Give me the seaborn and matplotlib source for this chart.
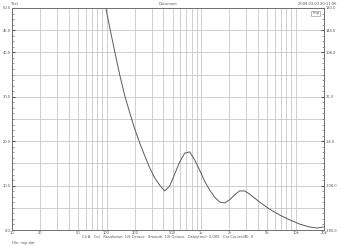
import numpy as np
import pandas as pd
import matplotlib
matplotlib.use("Agg")
import matplotlib.pyplot as plt
from matplotlib.ticker import FixedLocator, NullFormatter
import seaborn as sns

# ---- data ----
freq_hz = [89.2, 98.3, 108.4, 122.4, 138.2, 156.1, 176.2, 199.0, 224.7, 253.7, 286.6,
           323.6, 365.5, 412.7, 466.1, 526.3, 594.3, 671.1, 757.9, 855.9, 966.5, 1091,
           1233, 1392, 1572, 1775, 2005, 2264, 2557, 2887, 3260, 3681, 4158, 5302, 6761,
           8622, 10995, 14021, 17030, 19710]
impedance = [54.5, 50.0, 45.5, 40.1, 34.9, 30.2, 26.4, 22.7, 19.6, 16.7, 14.0,
             11.7, 10.1, 8.8, 9.9, 12.6, 15.3, 17.3, 17.6, 15.8, 13.5, 11.0,
             9.0, 7.4, 6.3, 6.1, 6.8, 7.9, 8.8, 8.8, 8.1, 7.2, 6.3, 4.7, 3.4,
             2.3, 1.35, 0.68, 0.45, 0.68]
x_ticks = [10, 20, 50, 100, 200, 500, 1000, 2000, 5000, 10000, 20000]
x_tick_labels = ["10", "20", "50", "100", "200", "500", "1k", "2k", "5k", "10k", "20k"]
y_left_ticks = [0, 10, 20, 30, 40, 45, 50]
y_left_labels = ["0.0", "10.0", "20.0", "30.0", "40.0", "45.0", "50.0"]
y_right_labels = ["-180.0", "-108.0", "-36.0", "36.0", "108.0", "144.0", "180.0"]

df = pd.DataFrame({"f": freq_hz, "z": impedance})

sns.set_style("white")
plt.rcParams['font.family'] = ['DejaVu Sans']

W, H = 341, 246
fig = plt.figure(figsize=(W / 100, H / 100), dpi=100)
ax = fig.add_axes([12 / W, 1 - 230 / H, (324 - 12) / W, (230 - 8) / H])

sns.lineplot(data=df, x="f", y="z", ax=ax, color="#5a5a5a", linewidth=0.7)
ax.set_xscale("log")
ax.set_xlim(10, 20000)
ax.set_ylim(0, 50)

# grid
major_f = []
for dec in [10, 100, 1000, 10000]:
    for m in range(1, 10):
        v = dec * m
        if v <= 20000:
            major_f.append(v)
major_f.append(20000)
for v in major_f:
    ax.axvline(v, color="#c8c8c8", linewidth=0.6, zorder=0)
for v in np.arange(0, 51, 5):
    ax.axhline(v, color="#c8c8c8", linewidth=0.6, zorder=0)

ax.xaxis.set_major_locator(FixedLocator(x_ticks))
ax.set_xticklabels(x_tick_labels)
ax.xaxis.set_minor_formatter(NullFormatter())
ax.tick_params(axis="x", which="both", length=0, labelsize=2.6, colors="#555555", pad=0.8)

ax.set_yticks(y_left_ticks)
ax.set_yticklabels(y_left_labels)
ax.set_yticks(np.arange(0, 50.1, 1.25), minor=True)
ax.tick_params(axis="y", which="major", length=2, direction="in", labelsize=2.6,
               colors="#555555", pad=1)
ax.tick_params(axis="y", which="minor", length=1.2, direction="in", color="#888888")

ax2 = ax.twinx()
ax2.set_ylim(0, 50)
ax2.set_yticks(y_left_ticks)
ax2.set_yticklabels(y_right_labels)
ax2.set_yticks(np.arange(0, 50.1, 1.25), minor=True)
ax2.tick_params(axis="y", which="major", length=2, direction="in", labelsize=2.6,
                colors="#555555", pad=1)
ax2.tick_params(axis="y", which="minor", length=1.2, direction="in", color="#888888")

for a in (ax, ax2):
    for s in a.spines.values():
        s.set_color("#707070")
        s.set_linewidth(0.6)

ax.set_xlabel("")
ax.set_ylabel("")

txt = dict(fontsize=2.6, color="#555555")
fig.text(14 / W, 1 - 4 / H, "Titel", ha="center", va="center", **txt)
fig.text(168 / W, 1 - 4 / H, "Document", ha="center", va="center", **txt)
fig.text(336 / W, 1 - 4 / H, "2008-03-03 20:11:06", ha="right", va="center", **txt)
fig.text(168 / W, 1 - 237 / H,
         "Ch A   Cnt   Resolution: 1/6 Octave   Smooth: 1/6 Octave   Delay(ms): 0.000   Cor Curve(dB): 0",
         ha="center", va="center", **txt)
fig.text(12 / W, 1 - 243 / H, "File: imp.dat", ha="left", va="center", **txt)
ax.text(0.985, 0.985, "Imp", transform=ax.transAxes, ha="right", va="top", fontsize=2.6,
        color="#555555",
        bbox=dict(boxstyle="square,pad=0.2", fc="white", ec="#888888", lw=0.4))

fig.savefig("out.png", dpi=100, facecolor="white")
